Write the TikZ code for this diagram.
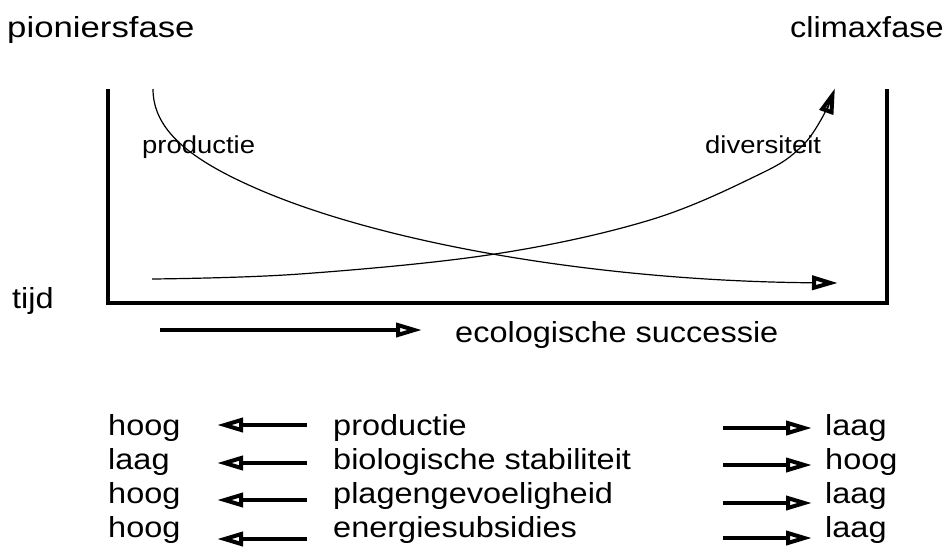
\documentclass[tikz,border=0pt]{standalone}
\usepackage{fontspec}
\setmainfont{Liberation Sans}[FakeStretch=1.12]
\usetikzlibrary{arrows.meta}

\begin{document}
\begin{tikzpicture}
[x=1pt,y=-1pt
,txt/.style={anchor=base west,inner sep=0pt,font=\fontsize{29}{34}\selectfont}
,sml/.style={txt,font=\fontsize{24.5}{29}\selectfont}
,kader/.style={draw=black,line width=3.4pt}
,ar/.style={draw=black,line width=3.2pt,arrows={-Triangle[open,length=26pt,width=14pt,line width=4pt]}}
,cv/.style={draw=black,line width=1.2pt,arrows={-Triangle[open,length=26pt,width=14pt,line width=4pt]}}]
\useasboundingbox (0,0) rectangle (949,546);
% fasen en assen
\node[txt,xscale=1.07,transform shape] (pion) at (7,37) {pioniersfase};
\node[txt] (clim) at (790,37) {climaxfase};
\node[txt] (tijd) at (12,308) {tijd};
\coordinate (lt) at (108,89);
\coordinate (lb) at (108,303);
\coordinate (rb) at (887,303);
\coordinate (rt) at (887,89);
\draw[kader] (lt) -- (lb) -- (rb) -- (rt);
% curves
\node[sml] (prod) at (142,153) {productie};
\node[sml] (div) at (705,153) {diversiteit};
\coordinate (p0) at (153,89);
\coordinate (p1) at (260,190);
\coordinate (p2) at (838,283);
\draw[cv] (p0) .. controls (153,130) and (190,160) .. (p1)
  .. controls (386,244) and (600,281) .. (p2);
\draw[cv] plot[smooth,tension=0.6] coordinates
  {(152,279) (300,274) (495,254) (650,220) (760,174) (800,148) (822,118) (835,88)};
% successie
\coordinate (s0) at (160,330);
\coordinate (s1) at (422,330);
\draw[ar] (s0) -- (s1);
\node[txt] (suc) at (455,342) {ecologische successie};
% tabel
\node[txt] (l1) at (108,435) {hoog};
\node[txt] (l2) at (108,469) {laag};
\node[txt] (l3) at (108,503) {hoog};
\node[txt] (l4) at (108,537) {hoog};
\node[txt] (m1) at (333,435) {productie};
\node[txt] (m2) at (333,469) {biologische stabiliteit};
\node[txt] (m3) at (333,503) {plagengevoeligheid};
\node[txt] (m4) at (333,537) {energiesubsidies};
\node[txt] (r1) at (825,435) {laag};
\node[txt] (r2) at (825,469) {hoog};
\node[txt] (r3) at (825,503) {laag};
\node[txt] (r4) at (825,537) {laag};
\coordinate (a1) at (307,425); \coordinate (b1) at (217,425);
\coordinate (a2) at (307,463); \coordinate (b2) at (217,463);
\coordinate (a3) at (307,500); \coordinate (b3) at (217,500);
\coordinate (a4) at (307,539); \coordinate (b4) at (217,539);
\coordinate (c1) at (723,428); \coordinate (d1) at (812,428);
\coordinate (c2) at (723,465); \coordinate (d2) at (812,465);
\coordinate (c3) at (723,503); \coordinate (d3) at (812,503);
\coordinate (c4) at (723,538); \coordinate (d4) at (812,538);
\draw[ar] (a1) -- (b1);
\draw[ar] (a2) -- (b2);
\draw[ar] (a3) -- (b3);
\draw[ar] (a4) -- (b4);
\draw[ar] (c1) -- (d1);
\draw[ar] (c2) -- (d2);
\draw[ar] (c3) -- (d3);
\draw[ar] (c4) -- (d4);
\end{tikzpicture}
\end{document}
